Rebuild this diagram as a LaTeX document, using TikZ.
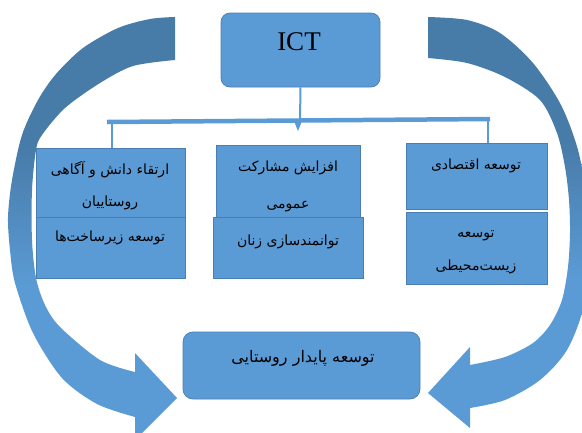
\documentclass[tikz,border=0pt]{standalone}
\usepackage{fontspec}
\setmainfont{Liberation Serif}
\newfontfamily\fafont[Script=Arabic]{DejaVu Sans}
\TeXXeTstate=1
\definecolor{boxfill}{HTML}{5B9BD5}
\definecolor{boxedge}{HTML}{4A7DB0}
\definecolor{arrdark}{HTML}{477BA8}
\definecolor{arrlight}{HTML}{5B9BD5}
\definecolor{linecol}{HTML}{5B9BD5}
\pgfdeclareverticalshading{arrshade}{100bp}{color(0bp)=(arrlight); color(43bp)=(arrlight); color(60bp)=(arrdark); color(100bp)=(arrdark)}
\tikzset{
  box/.style={draw=boxedge, line width=0.7pt, fill=boxfill, inner sep=0pt},
  rbox/.style={box, rounded corners=9pt},
  fatxt/.style={font=\fafont\fontsize{14}{#1}\selectfont, align=center, inner sep=0pt, text=black},
  fatxt/.default=30,
  conn/.style={draw=linecol, line width=2pt},
  bigarrow/.style={shading=arrshade}
}
\begin{document}
\begin{tikzpicture}[x=1pt,y=-1pt]
\useasboundingbox (0,0) rectangle (582,432);
\clip (0,0) rectangle (582,432);
% circular arrows
\shade[bigarrow] plot[smooth] coordinates {(175,17) (150,19) (118,28) (83,48) (56,74) (38,100) (22,135) (12,180) (8,217) (10,250) (15,283) (33,333) (62,378) (97,404) (135,417)}
  -- (135,440) -- (177,398) -- (135,353) --
  plot[smooth] coordinates {(135,372) (100,360) (60,327) (45,305) (36,278) (32,240) (32,190) (36,150) (42,135) (65,108) (100,83) (133,66) (175,60)} -- cycle;
\shade[bigarrow] plot[smooth] coordinates {(428,17) (467,20) (500,33) (533,63) (561,105) (578,150) (587,200) (589,245) (584,305) (567,350) (540,380) (505,400) (470,408)}
  -- (470,428) -- (428,393) -- (470,347) --
  plot[smooth] coordinates {(470,365) (505,357) (533,343) (550,325) (562,300) (568,267) (570,233) (569,200) (565,167) (557,133) (540,100) (505,77) (467,63) (428,58)} -- cycle;
% boxes
\node[rbox, minimum width=159pt, minimum height=74pt] (ict) at (300.5,50) {};
\node[box, minimum width=149pt, minimum height=69pt] (l1) at (110.5,182.5) {};
\node[box, minimum width=149pt, minimum height=61pt] (l2) at (110.5,247.5) {};
\node[box, minimum width=144pt, minimum height=72pt] (m1) at (288,181) {};
\node[box, minimum width=150pt, minimum height=61pt] (m2) at (288,247.5) {};
\node[box, minimum width=141pt, minimum height=66pt] (r1) at (476.5,176) {};
\node[box, minimum width=141pt, minimum height=72pt] (r2) at (476.5,248) {};
\node[rbox, rounded corners=10pt, minimum width=237pt, minimum height=67pt] (goal) at (301.5,365.5) {};
% connectors
\coordinate (barL) at (107,122);
\coordinate (barR) at (490,119);
\coordinate (jl) at (112,122);
\coordinate (jr) at (488,119);
\coordinate (jm) at (300,120.5);
\draw[conn] (ict.south) -- (jm);
\draw[draw=linecol, line width=4.5pt] (barL) -- (barR);
\draw[conn] (jl) -- (jl |- l1.north);
\draw[conn] (jr) -- (jr |- r1.north);
\fill[linecol] (294,121) -- (302,121) -- (298,131) -- cycle;
% texts
\node[font=\fontsize{27}{30}\selectfont, inner sep=0pt] (tict) at (299,42) {ICT};
\node[fatxt=32] (tl1) at (110,186) {\beginR ارتقاء دانش و آگاهی\endR\\\beginR روستاییان\endR};
\node[fatxt] (tl2) at (110,238) {\beginR توسعه زیرساخت‌ها\endR};
\node[fatxt=37] (tm1) at (288,186.5) {\beginR افزایش مشارکت\endR\\\beginR عمومی\endR};
\node[fatxt] (tm2) at (288,242) {\beginR توانمندسازی زنان\endR};
\node[fatxt] (tr1) at (476,166) {\beginR توسعه اقتصادی\endR};
\node[fatxt=33] (tr2) at (476,252.5) {\beginR توسعه\endR\\\beginR زیست‌محیطی\endR};
\node[fatxt, font=\fafont\fontsize{16}{18}\selectfont] (tgoal) at (303,358) {\beginR توسعه پایدار روستایی\endR};
\end{tikzpicture}
\end{document}
